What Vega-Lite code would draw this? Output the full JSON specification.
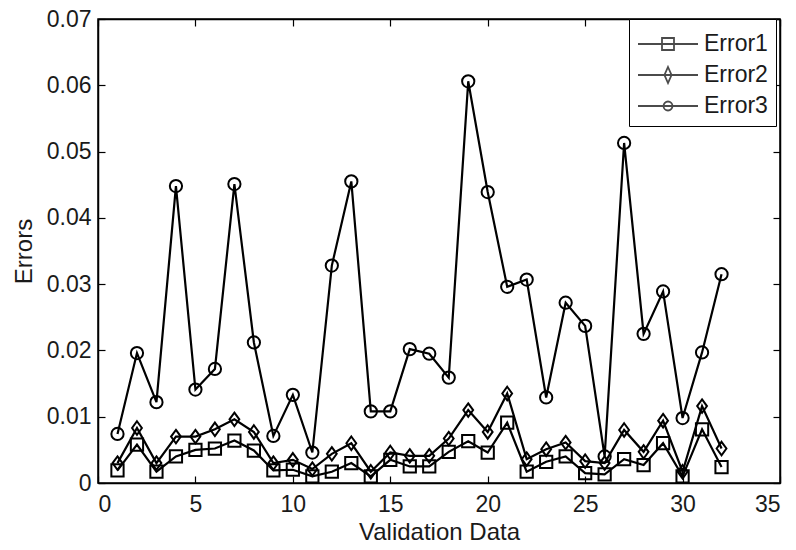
{
  "$schema": "https://vega.github.io/schema/vega-lite/v6.json",
  "width": 682,
  "height": 464,
  "autosize": {"type": "none"},
  "padding": {"left": 98, "top": 19, "right": 16, "bottom": 67},
  "background": "white",
  "config": {
    "font": "Liberation Sans",
    "view": {"stroke": "black", "strokeWidth": 1.5},
    "axis": {
      "domainColor": "black",
      "domainWidth": 1.5,
      "tickColor": "black",
      "tickWidth": 1.2,
      "grid": false,
      "labelColor": "#1a1a1a",
      "titleColor": "#1a1a1a",
      "labelFontSize": 23,
      "titleFontSize": 24,
      "titleFontWeight": "normal",
      "labelFont": "Liberation Sans",
      "titleFont": "Liberation Sans"
    }
  },
  "data": {
    "values": [
      {"x": 1, "Error1": 0.0019, "Error2": 0.0030, "Error3": 0.0074},
      {"x": 2, "Error1": 0.0058, "Error2": 0.0083, "Error3": 0.0196},
      {"x": 3, "Error1": 0.0017, "Error2": 0.0030, "Error3": 0.0122},
      {"x": 4, "Error1": 0.0040, "Error2": 0.0070, "Error3": 0.0448},
      {"x": 5, "Error1": 0.0050, "Error2": 0.0070, "Error3": 0.0141},
      {"x": 6, "Error1": 0.0052, "Error2": 0.0081, "Error3": 0.0172},
      {"x": 7, "Error1": 0.0064, "Error2": 0.0096, "Error3": 0.0451},
      {"x": 8, "Error1": 0.0049, "Error2": 0.0077, "Error3": 0.0212},
      {"x": 9, "Error1": 0.0019, "Error2": 0.0030, "Error3": 0.0071},
      {"x": 10, "Error1": 0.0020, "Error2": 0.0035, "Error3": 0.0133},
      {"x": 11, "Error1": 0.0010, "Error2": 0.0021, "Error3": 0.0046},
      {"x": 12, "Error1": 0.0017, "Error2": 0.0044, "Error3": 0.0328},
      {"x": 13, "Error1": 0.0030, "Error2": 0.0060, "Error3": 0.0455},
      {"x": 14, "Error1": 0.0010, "Error2": 0.0017, "Error3": 0.0108},
      {"x": 15, "Error1": 0.0035, "Error2": 0.0046, "Error3": 0.0108},
      {"x": 16, "Error1": 0.0025, "Error2": 0.0041, "Error3": 0.0202},
      {"x": 17, "Error1": 0.0025, "Error2": 0.0041, "Error3": 0.0195},
      {"x": 18, "Error1": 0.0047, "Error2": 0.0067, "Error3": 0.0159},
      {"x": 19, "Error1": 0.0063, "Error2": 0.0110, "Error3": 0.0606},
      {"x": 20, "Error1": 0.0046, "Error2": 0.0077, "Error3": 0.0439},
      {"x": 21, "Error1": 0.0091, "Error2": 0.0135, "Error3": 0.0296},
      {"x": 22, "Error1": 0.0017, "Error2": 0.0036, "Error3": 0.0307},
      {"x": 23, "Error1": 0.0032, "Error2": 0.0051, "Error3": 0.0129},
      {"x": 24, "Error1": 0.0040, "Error2": 0.0061, "Error3": 0.0272},
      {"x": 25, "Error1": 0.0015, "Error2": 0.0033, "Error3": 0.0237},
      {"x": 26, "Error1": 0.0013, "Error2": 0.0030, "Error3": 0.0040},
      {"x": 27, "Error1": 0.0036, "Error2": 0.0080, "Error3": 0.0513},
      {"x": 28, "Error1": 0.0027, "Error2": 0.0047, "Error3": 0.0225},
      {"x": 29, "Error1": 0.0060, "Error2": 0.0094, "Error3": 0.0289},
      {"x": 30, "Error1": 0.0010, "Error2": 0.0017, "Error3": 0.0098},
      {"x": 31, "Error1": 0.0081, "Error2": 0.0116, "Error3": 0.0197},
      {"x": 32, "Error1": 0.0024, "Error2": 0.0052, "Error3": 0.0315}
    ]
  },
  "transform": [
    {"fold": ["Error1", "Error2", "Error3"], "as": ["series", "value"]}
  ],
  "layer": [
    {
      "mark": {"type": "line", "color": "black", "strokeWidth": 2.2},
      "encoding": {
        "x": {
          "field": "x", "type": "quantitative",
          "scale": {"domain": [0, 35], "nice": false},
          "axis": {"orient": "top", "labels": false, "title": null, "values": [0, 5, 10, 15, 20, 25, 30, 35], "tickSize": -7}
        },
        "y": {
          "field": "value", "type": "quantitative",
          "scale": {"domain": [0, 0.07], "nice": false},
          "axis": {"orient": "right", "labels": false, "title": null, "values": [0, 0.01, 0.02, 0.03, 0.04, 0.05, 0.06, 0.07], "tickSize": -7}
        },
        "detail": {"field": "series"}
      }
    },
    {
      "mark": {"type": "point", "filled": false, "stroke": "black", "strokeWidth": 2, "size": 150, "opacity": 1},
      "encoding": {
        "x": {
          "field": "x", "type": "quantitative",
          "scale": {"domain": [0, 35], "nice": false},
          "axis": {"orient": "bottom", "title": "Validation Data", "values": [0, 5, 10, 15, 20, 25, 30, 35], "format": "d", "tickSize": -7, "labelPadding": 17, "titlePadding": 4}
        },
        "y": {
          "field": "value", "type": "quantitative",
          "scale": {"domain": [0, 0.07], "nice": false},
          "axis": {"orient": "left", "title": "Errors", "values": [0, 0.01, 0.02, 0.03, 0.04, 0.05, 0.06, 0.07], "format": ".2~f", "tickSize": -7, "labelPadding": 14, "titlePadding": 10}
        },
        "shape": {
          "field": "series", "type": "nominal",
          "scale": {"domain": ["Error1", "Error2", "Error3"], "range": ["square", "M0,-1.1L0.8,0L0,1.1L-0.8,0Z", "circle"]},
          "legend": null
        }
      }
    },
    {
      "transform": [{"filter": "datum.x > 1000"}],
      "mark": {"type": "point", "filled": false, "stroke": "black", "strokeWidth": 1.8, "size": 1024},
      "encoding": {
        "x": {"field": "x", "type": "quantitative", "axis": null},
        "y": {"field": "value", "type": "quantitative", "axis": null},
        "shape": {
          "field": "series", "type": "nominal",
          "scale": {
            "domain": ["Error1", "Error2", "Error3"],
            "range": [
              "M-1,0H2.75M0.5,-0.375H1.25V0.375H0.5Z",
              "M-1,0H2.75M0.875,-0.5L1.095,0L0.875,0.5L0.655,0Z",
              "M-1,0H2.75M1.155,0A0.28,0.28,0,1,1,0.595,0A0.28,0.28,0,1,1,1.155,0Z"
            ]
          },
          "legend": {
            "title": null,
            "orient": "none",
            "legendX": 531,
            "legendY": 0,
            "direction": "vertical",
            "fillColor": "white",
            "strokeColor": "black",
            "cornerRadius": 0,
            "padding": 8,
            "rowPadding": 2,
            "symbolSize": 1024,
            "symbolStrokeWidth": 1.8,
            "symbolStrokeColor": "black",
            "symbolFillColor": "transparent",
            "labelFontSize": 23,
            "labelColor": "#1a1a1a",
            "labelOffset": 33,
            "labelFont": "Liberation Sans"
          }
        }
      }
    }
  ],
  "resolve": {
    "axis": {"x": "independent", "y": "independent"},
    "scale": {"shape": "independent"}
  }
}
